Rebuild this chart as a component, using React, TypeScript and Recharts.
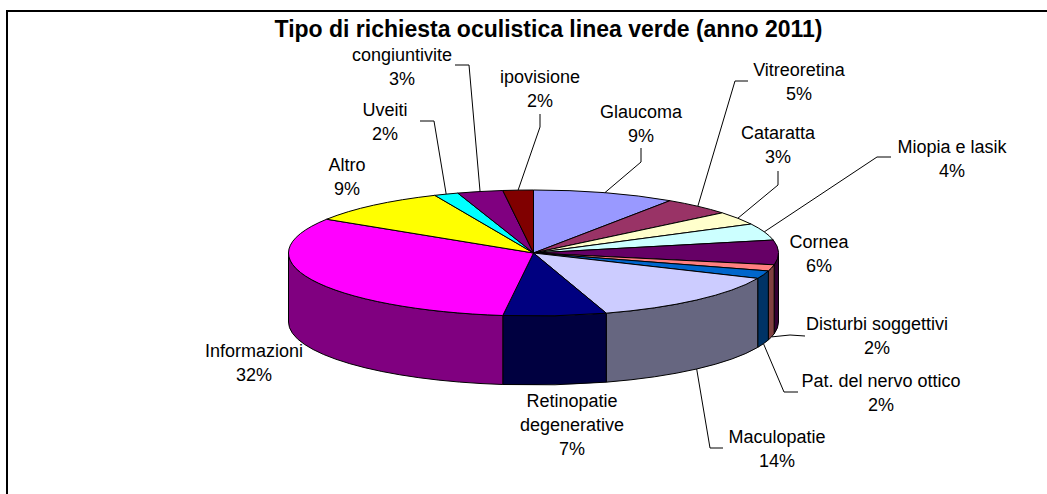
import { PieChart, Pie } from "recharts";

const labels = [
  ["Glaucoma"],
  ["Vitreoretina"],
  ["Cataratta"],
  ["Miopia e lasik"],
  ["Cornea"],
  ["Disturbi soggettivi"],
  ["Pat. del nervo ottico"],
  ["Maculopatie"],
  ["Retinopatie", "degenerative"],
  ["Informazioni"],
  ["Altro"],
  ["Uveiti"],
  ["congiuntivite"],
  ["ipovisione"],
];
const values = [9.4, 4.6, 3.4, 4.3, 6.3, 1.6, 2, 13.6, 6.8, 32, 9.4, 1.6, 3, 2];
const colors = [
  "#9999ff", "#993366", "#ffffcc", "#ccffff", "#660066", "#ff8080", "#0066cc",
  "#ccccff", "#000080", "#ff00ff", "#ffff00", "#00ffff", "#800080", "#800000",
];
const wallColors = [
  "#4d4d80", "#4d1a33", "#808066", "#668080", "#330033", "#804040", "#003366",
  "#666680", "#000040", "#800080", "#808000", "#008080", "#400040", "#400000",
];

// where each label sits, and the elbow of its leader line (if it has one)
const labelPos = [
  [641, 112], [799, 70], [778, 133], [952, 147], [819, 242], [877, 324], [881, 381],
  [777, 437], [572, 401], [254, 351], [347, 165], [385, 110], [402, 55], [540, 77],
];
const leaders: (number[][] | null)[] = [
  [[641, 148], [641, 162]],
  [[748, 81], [735, 81]],
  [[778, 171], [778, 185]],
  [[891, 157], [877, 157]],
  null,
  [[805, 336], [790, 335]],
  [[798, 392], [784, 392]],
  [[723, 448], [710, 448]],
  null,
  null,
  null,
  [[420, 121], [434, 121]],
  [[455, 65], [469, 65]],
  [[540, 114], [540, 127]],
];

const tableData = labels.map((l, i) => ({
  name: l.join(" "),
  value: values[i],
  fill: colors[i],
  wall: wallColors[i],
}));

const CX = 533.5;
const CY = 253;
const RX = 245;
const RY = 63;
const DEPTH = 69;
const FONT = "'Liberation Sans', Arial, sans-serif";

const pt = (deg: number, cy: number) => {
  const a = (deg * Math.PI) / 180;
  return [CX + RX * Math.cos(a), cy - RY * Math.sin(a)];
};

const TopSlice = (p: any) => {
  const [x0, y0] = pt(p.startAngle, CY);
  const [x1, y1] = pt(p.endAngle, CY);
  const large = Math.abs(p.endAngle - p.startAngle) > 180 ? 1 : 0;
  const d = `M${CX},${CY}L${x0},${y0}A${RX},${RY} 0 ${large} 1 ${x1},${y1}Z`;
  return <path d={d} fill={p.fill} stroke="#000" strokeWidth={1} />;
};

// only the front half of the rim shows, angles 0 to -180
const WallSlice = (p: any) => {
  const from = Math.min(p.startAngle, 0);
  const to = Math.max(p.endAngle, -180);
  if (from <= to) return <g />;
  const [x0, y0] = pt(from, CY);
  const [x1, y1] = pt(to, CY);
  const d = `M${x0},${y0}A${RX},${RY} 0 0 1 ${x1},${y1}L${x1},${y1 + DEPTH}A${RX},${RY} 0 0 0 ${x0},${y0 + DEPTH}Z`;
  return <path d={d} fill={p.wall} stroke="#000" strokeWidth={1} />;
};

const SliceLabel = (p: any) => {
  const i = p.index;
  const [x, y] = labelPos[i];
  const lines = [...labels[i], `${Math.round(p.percent * 100)}%`];
  const mid = p.midAngle;
  const front = Math.sin((mid * Math.PI) / 180) < 0;
  const anchor = pt(mid, front ? CY + DEPTH : CY);
  const elbow = leaders[i];
  return (
    <g>
      {elbow && (
        <polyline
          points={[...elbow, anchor].map((q) => q.join(",")).join(" ")}
          fill="none"
          stroke="#000"
          strokeWidth={1}
        />
      )}
      <text x={x} y={y + 6} textAnchor="middle" fontFamily={FONT} fontSize={18} fill="#000">
        {lines.map((t, k) => (
          <tspan key={k} x={x} dy={k === 0 ? 0 : 24}>
            {t}
          </tspan>
        ))}
      </text>
    </g>
  );
};

export default function App() {
  return (
    <div style={{ position: "absolute", left: 0, top: 0, width: 1047, height: 494, background: "#fff" }}>
      <PieChart width={1047} height={494} margin={{ top: 0, right: 0, bottom: 0, left: 0 }}>
        <polyline points="7,494 7,11 1047,11" fill="none" stroke="#000" strokeWidth={2} />
        <text
          x={548.5}
          y={37}
          textAnchor="middle"
          fontFamily={FONT}
          fontSize={23}
          fontWeight="bold"
          fill="#000"
        >
          Tipo di richiesta oculistica linea verde (anno 2011)
        </text>
        <Pie
          data={tableData}
          dataKey="value"
          cx={CX}
          cy={CY}
          outerRadius={RX}
          startAngle={90}
          endAngle={-270}
          shape={WallSlice}
          label={false}
          labelLine={false}
          isAnimationActive={false}
        />
        <Pie
          data={tableData}
          dataKey="value"
          cx={CX}
          cy={CY}
          outerRadius={RX}
          startAngle={90}
          endAngle={-270}
          shape={TopSlice}
          label={SliceLabel}
          labelLine={false}
          isAnimationActive={false}
        />
      </PieChart>
    </div>
  );
}
